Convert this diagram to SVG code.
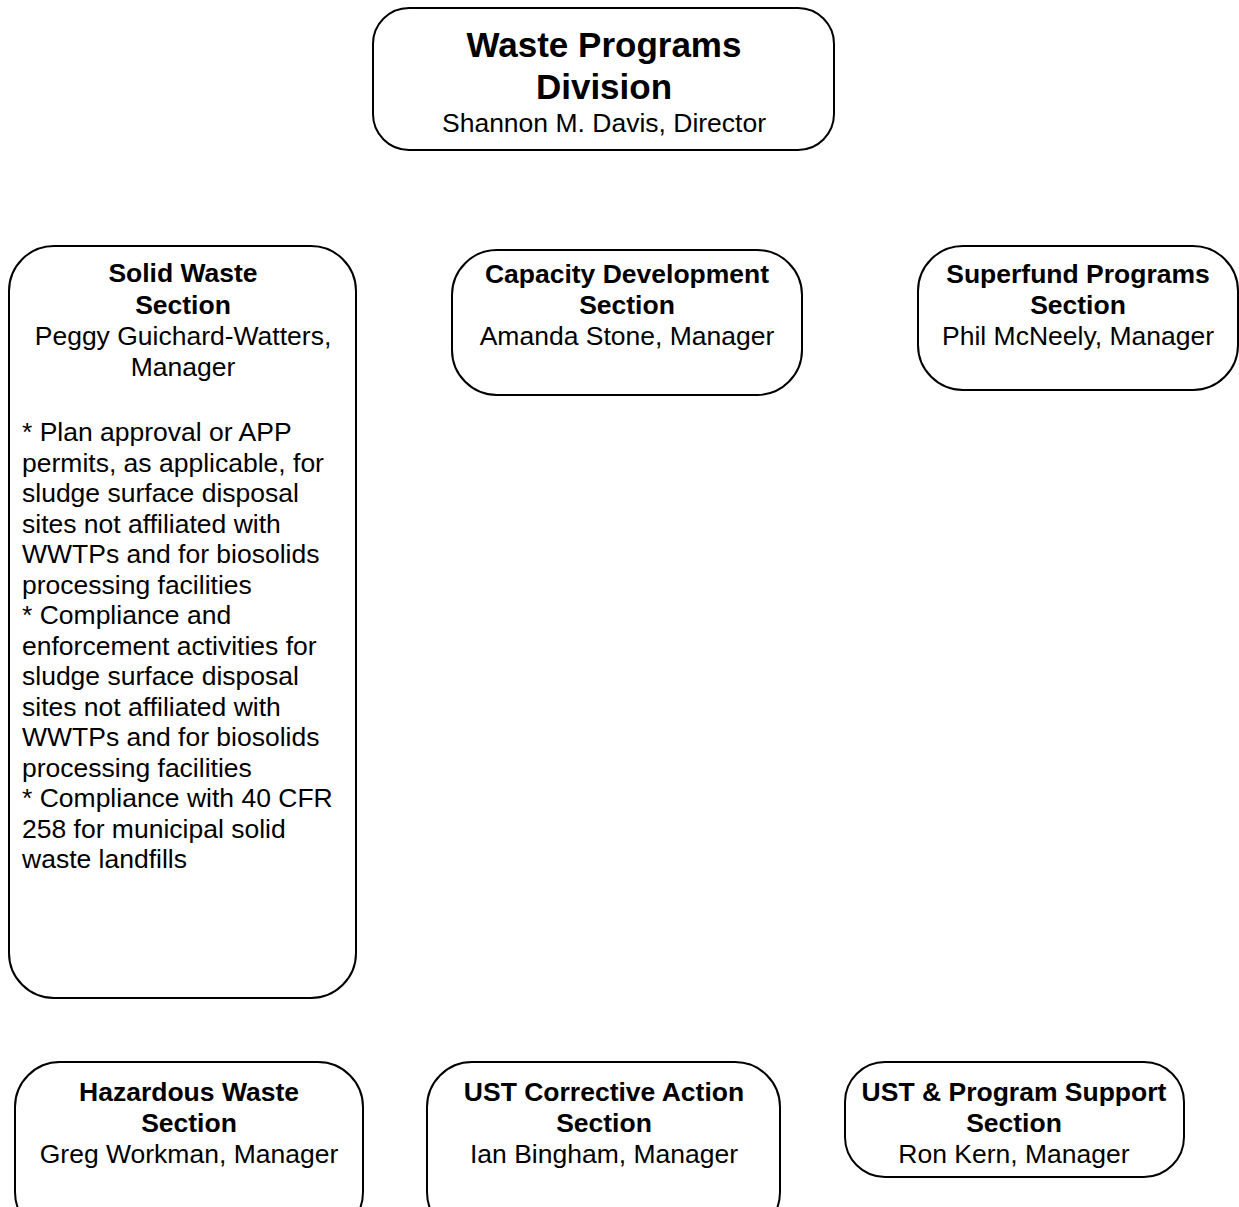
<svg xmlns="http://www.w3.org/2000/svg" width="1239" height="1207" viewBox="0 0 1239 1207">
<style>
.box{fill:#fff;stroke:#000;stroke-width:2}
text{font-family:"Liberation Sans",Arial,sans-serif;fill:#000}
.t{font-size:26.5px;text-anchor:middle}
.b{font-weight:bold}
.h{font-size:35px;font-weight:bold;text-anchor:middle}
.l{font-size:26.5px}
</style>
<rect width="1239" height="1207" fill="#fff"/>
<g id="connectors"></g>
<g id="division">
<rect class="box" x="373" y="8" width="461" height="142" rx="36" ry="36"/>
<text class="h" x="604" y="57">Waste Programs</text>
<text class="h" x="604" y="99">Division</text>
<text class="t" x="604" y="132">Shannon M. Davis, Director</text>
</g>
<g id="solid-waste">
<rect class="box" x="9" y="246" width="347" height="752" rx="45" ry="45"/>
<text class="t b" x="183" y="282">Solid Waste</text>
<text class="t b" x="183" y="314">Section</text>
<text class="t" x="183" y="345">Peggy Guichard-Watters,</text>
<text class="t" x="183" y="376">Manager</text>
<text class="l" x="22" y="441">* Plan approval or APP</text>
<text class="l" x="22" y="471.5">permits, as applicable, for</text>
<text class="l" x="22" y="502">sludge surface disposal</text>
<text class="l" x="22" y="532.5">sites not affiliated with</text>
<text class="l" x="22" y="563">WWTPs and for biosolids</text>
<text class="l" x="22" y="593.5">processing facilities</text>
<text class="l" x="22" y="624">* Compliance and</text>
<text class="l" x="22" y="654.5">enforcement activities for</text>
<text class="l" x="22" y="685">sludge surface disposal</text>
<text class="l" x="22" y="715.5">sites not affiliated with</text>
<text class="l" x="22" y="746">WWTPs and for biosolids</text>
<text class="l" x="22" y="776.5">processing facilities</text>
<text class="l" x="22" y="807">* Compliance with 40 CFR</text>
<text class="l" x="22" y="837.5">258 for municipal solid</text>
<text class="l" x="22" y="868">waste landfills</text>
</g>
<g id="capacity">
<rect class="box" x="452" y="250" width="350" height="145" rx="45" ry="45"/>
<text class="t b" x="627" y="283">Capacity Development</text>
<text class="t b" x="627" y="314">Section</text>
<text class="t" x="627" y="345">Amanda Stone, Manager</text>
</g>
<g id="superfund">
<rect class="box" x="918" y="246" width="320" height="144" rx="45" ry="45"/>
<text class="t b" x="1078" y="283">Superfund Programs</text>
<text class="t b" x="1078" y="314">Section</text>
<text class="t" x="1078" y="345">Phil McNeely, Manager</text>
</g>
<g id="hazardous">
<rect class="box" x="15" y="1062" width="348" height="175" rx="45" ry="45"/>
<text class="t b" x="189" y="1101">Hazardous Waste</text>
<text class="t b" x="189" y="1132">Section</text>
<text class="t" x="189" y="1163">Greg Workman, Manager</text>
</g>
<g id="ust-corrective">
<rect class="box" x="427" y="1062" width="353" height="175" rx="45" ry="45"/>
<text class="t b" x="604" y="1101">UST Corrective Action</text>
<text class="t b" x="604" y="1132">Section</text>
<text class="t" x="604" y="1163">Ian Bingham, Manager</text>
</g>
<g id="ust-support">
<rect class="box" x="845" y="1062" width="339" height="115" rx="40" ry="40"/>
<text class="t b" x="1014" y="1101">UST &amp; Program Support</text>
<text class="t b" x="1014" y="1132">Section</text>
<text class="t" x="1014" y="1163">Ron Kern, Manager</text>
</g>
</svg>
